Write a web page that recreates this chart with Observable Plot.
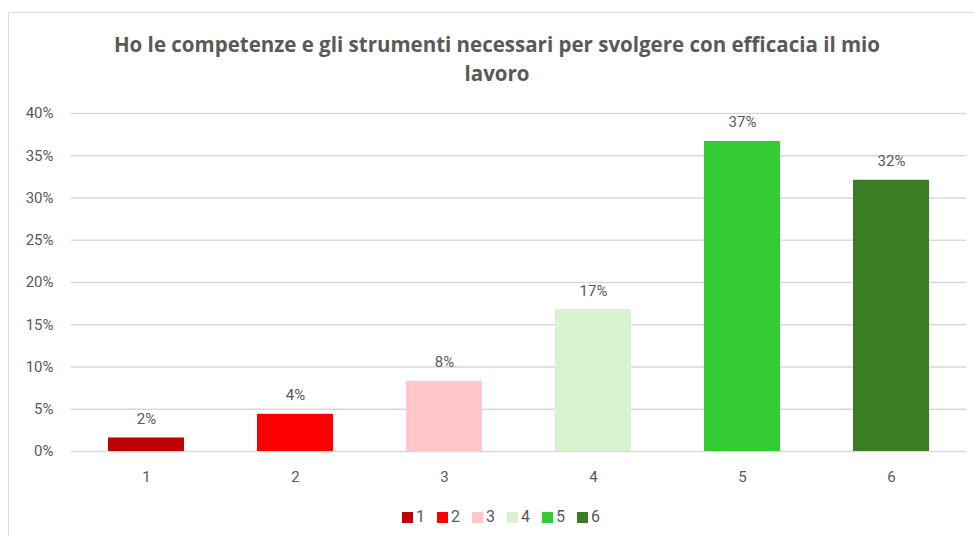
<!DOCTYPE html>
<html>
<head>
<meta charset="utf-8">
<script src="https://cdn.jsdelivr.net/npm/d3@7"></script>
<script src="https://cdn.jsdelivr.net/npm/@observablehq/plot@0.6"></script>
<style>
  html, body { margin: 0; padding: 0; background: #fff; overflow: hidden; }
  #wrap { position: relative; width: 975px; height: 536px; overflow: hidden; font-family: Roboto, "Liberation Sans", sans-serif; }
  #frame { position: absolute; left: 8px; top: 12px; width: 1000px; height: 600px; border-left: 1.5px solid #d9d9d9; border-top: 1.5px solid #d9d9d9; }
  #title { position: absolute; top: 30px; left: 97px; width: 800px; text-align: center; font-family: "Open Sans", Roboto, sans-serif; font-weight: bold; font-size: 20.5px; line-height: 29px; color: #595959; }
  #chart { position: absolute; top: 95px; left: 0; }
  #legend { position: absolute; top: 507px; left: 0; width: 1002px; display: flex; justify-content: center; font-size: 16px; color: #595959; line-height: 20px; }
  #legend .item { display: flex; align-items: center; margin: 0 6px; }
  #legend .sw { width: 11px; height: 11px; margin-right: 3px; }
</style>
</head>
<body>
<div id="wrap">
  <div id="frame"></div>
  <div id="title"></div>
  <div id="chart"></div>
  <div id="legend"></div>
</div>
<script>
const titleText = "Ho le competenze e gli strumenti necessari per svolgere con efficacia il mio lavoro";
const categories = ["1", "2", "3", "4", "5", "6"];
const values = [0.016, 0.044, 0.083, 0.168, 0.367, 0.321];
const colors = ["#C00000", "#FF0000", "#FFC7C7", "#D9F2D0", "#33CC33", "#3A7D22"];
const yTicks = [0, 0.05, 0.10, 0.15, 0.20, 0.25, 0.30, 0.35, 0.40];

const data = categories.map((c, i) => ({cat: c, value: values[i]}));

document.getElementById("title").textContent = titleText;

const chart = Plot.plot({
  width: 975,
  height: 395,
  marginLeft: 71,
  marginRight: 9,
  marginTop: 18,
  marginBottom: 39,
  style: {fontFamily: "Roboto, sans-serif", fontSize: "15px", color: "#595959", background: "transparent", overflow: "visible"},
  x: {domain: categories, paddingInner: 0.49, paddingOuter: 0.245, label: null, tickSize: 0, tickPadding: 20},
  y: {domain: [0, 0.4], ticks: yTicks, tickFormat: ".0%", label: null, tickSize: 0, tickPadding: 18},
  color: {domain: categories, range: colors},
  marks: [
    Plot.ruleY(yTicks, {stroke: "#d9d9d9", strokeWidth: 1.3}),
    Plot.barY(data, {x: "cat", y: "value", fill: "cat"}),
    Plot.text(data, {x: "cat", y: "value", text: d => Math.round(d.value * 100) + "%", dy: -14, lineAnchor: "bottom", fill: "#595959", fontSize: 15})
  ]
});
document.getElementById("chart").appendChild(chart);

const legend = document.getElementById("legend");
categories.forEach((c, i) => {
  const item = document.createElement("div");
  item.className = "item";
  const sw = document.createElement("span");
  sw.className = "sw";
  sw.style.background = colors[i];
  const lab = document.createElement("span");
  lab.textContent = c;
  item.appendChild(sw);
  item.appendChild(lab);
  legend.appendChild(item);
});
</script>
</body>
</html>
